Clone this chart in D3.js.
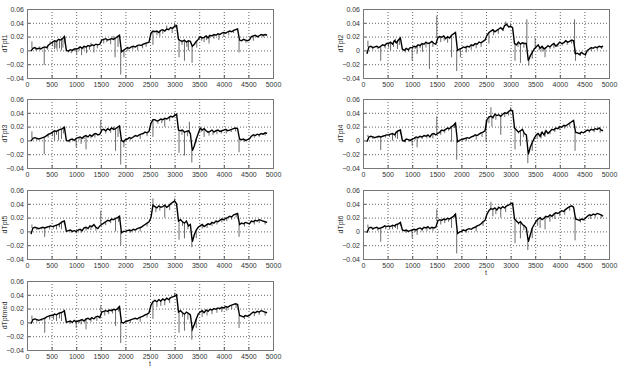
<!DOCTYPE html>
<html lang="en">
<head>
<meta charset="UTF-8">
<title>dTpt series</title>
<script src="https://d3js.org/d3.v7.min.js"></script>
<style>
  body { margin: 0; background: #fff; }
  svg text { font-family: "Liberation Sans", Arial, sans-serif; fill: #333; }
</style>
</head>
<body>
<div id="chart"></div>
<script>
// time grid of the sampled values (every 40 t from 80 to 4880)
const tStart = 80, tStep = 40, nPts = 121;
const tGrid = d3.range(nPts).map(i => tStart + i * tStep);

// values in units of 1e-3
const dTpt1 = [
  -1, 3, 4, 2, 3, 2, 4,   5, 4, 8, 10,   12, 14, 13, 16, 15, 17, 20,   0, -1, 1, 0, 2,
  2, 3, 5, 3, 6, 5, 7, 6, 8, 7, 9, 8, 9,   15, 16, 17, 15, 16, 17, 16, 18, 20, 22,   -2, 0,
  2, 4, 3, 5, 6, 5, 7, 8, 7, 9, 10, 11, 12,   25, 28,   27, 28, 26, 29, 30, 28, 31, 30, 33, 32, 35, 36,
  16, 14, 13, 15, 12, 14, 13, 6,   9, 13, 16,
  20, 18, 19, 21, 18, 22, 21, 23, 22, 24, 23, 25, 26, 25, 27, 28, 27, 29, 30, 31,
  15, 14, 16, 15, 14, 15,   20, 21, 22, 20, 21, 23, 22, 23, 22];
const dTpt2 = [
  -5, 5, 6, 4, 5, 6, 4,   6, 8, 7, 10,   10, 12, 9, 14, 11, 15, 18,   2, 0, 3, 1, 4,
  4, 6, 5, 8, 7, 10, 9, 12, 10, 11, 13, 10, 9,   18, 20, 19, 21, 17, 20, 18, 22, 24, 26,   0, 2,
  3, 5, 4, 6, 5, 8, 7, 10, 9, 12, 11, 13, 15,   22, 26,   28, 30, 27, 29, 31, 33, 30, 36, 38, 34, 35, 33,
  10, 8, 12, 9, 11, 10, 10, -15,   -8, -3, 2,
  5, 8, 3, 6, 2, 4, 7, 5, 8, 10, 6, 9, 12, 10, 11, 14, 12, 13, 15, 14,
  -5, -4, -6, -3, -5, -6,   0, 2, 4, 3, 5, 4, 6, 5, 6];
const dTpt3 = [
  -1, 3, 4, 3, 2, 3, 4,   5, 7, 9, 10,   12, 14, 13, 15, 16, 17, 19,   0, -1, 1, 2, 0,
  3, 4, 5, 3, 6, 7, 5, 8, 6, 9, 10, 8, 9,   15, 16, 14, 17, 15, 18, 16, 17, 19, 21,   0, -2,
  1, 2, 4, 3, 5, 7, 6, 8, 9, 10, 12, 11, 13,   25, 30,   30, 28, 29, 31, 30, 32, 31, 33, 35, 34, 36, 38,
  15, 14, 15, 12, 13, 14, 10, -15,   -8, 2, 10,
  18, 15, 17, 14, 12, 13, 15, 12, 14, 15, 13, 14, 15, 16, 14, 15, 16, 17, 18, 17,
  2, 1, 2, 0, 1, 2,   6, 8, 7, 9, 8, 10, 9, 11, 10];
const dTpt4 = [
  -2, 5, 6, 5, 4, 5, 6,   5, 6, 7, 8,   8, 9, 10, 8, 12, 14, 15,   0, -1, 2, 1, 0,
  2, 3, 5, 4, 6, 5, 7, 6, 8, 5, 9, 10, 8,   10, 12, 15, 14, 16, 18, 17, 20, 22, 25,   -2, 0,
  1, 2, 3, 4, 3, 5, 6, 8, 7, 9, 11, 12, 14,   30, 34,   35, 33, 38, 36, 37, 35, 38, 40, 39, 42, 44, 43,
  18, 15, 12, 14, 16, 10, 8, -20,   -10, -3, 3,
  8, 10, 6, 12, 8, 14, 10, 13, 16, 15, 18, 17, 20, 19, 22, 21, 23, 25, 27, 29,
  12, 11, 10, 12, 11, 13,   15, 14, 16, 15, 17, 16, 18, 15, 14];
const dTpt5 = [
  -4, 5, 6, 5, 4, 5, 6,   5, 6, 7, 8,   7, 8, 9, 10, 12, 14, 15,   0, 1, 2, 0, 1,
  0, 2, 3, 1, 5, 6, 4, 8, 7, 10, 6, 4, 8,   10, 12, 14, 16, 15, 18, 17, 19, 20, 22,   -2, 0,
  0, 1, 2, 1, 3, 2, 4, 5, 6, 8, 10, 12, 14,   20, 38,   36, 34, 37, 35, 36, 38, 35, 37, 40, 42, 44, 40,
  15, 17, 14, 12, 15, 8, 10, -15,   -5, 2, 6,
  8, 10, 7, 9, 11, 10, 13, 12, 15, 14, 16, 18, 17, 19, 20, 22, 21, 24, 25, 26,
  10, 12, 11, 13, 12, 11,   15, 14, 16, 15, 17, 16, 15, 14, 13];
const dTpt6 = [
  -2, 5, 6, 4, 5, 6, 4,   5, 6, 8, 7,   8, 7, 9, 8, 10, 11, 13,   2, 1, 2, 0, 1,
  2, 3, 2, 4, 5, 3, 6, 5, 7, 4, 6, 5, 6,   15, 17, 16, 18, 17, 19, 18, 20, 22, 25,   -3, -1,
  0, 2, 1, 3, 4, 3, 5, 6, 8, 9, 11, 14, 16,   25, 30,   33, 32, 34, 31, 35, 33, 36, 34, 37, 38, 40, 41,
  18, 15, 12, 14, 10, 8, 5, -15,   -5, 5, 10,
  15, 18, 20, 17, 19, 22, 21, 24, 22, 25, 27, 26, 28, 30, 29, 32, 34, 36, 37, 35,
  18, 17, 16, 18, 17, 19,   22, 24, 23, 25, 24, 26, 25, 24, 22];
const dTptmed = [
  -2, 4, 5, 4, 3, 4, 5,   6, 8, 9, 10,   10, 12, 11, 13, 14, 15, 17,   0, 1, 2, 0, 3,
  1, 2, 3, 4, 2, 5, 6, 4, 7, 5, 8, 9, 7,   15, 16, 17, 16, 18, 17, 19, 18, 20, 23,   0, -1,
  1, 2, 3, 4, 5, 6, 5, 7, 8, 9, 11, 12, 14,   25, 30,   32, 30, 33, 31, 34, 32, 35, 33, 36, 37, 38, 40,
  15, 17, 14, 12, 15, 13, 11, -10,   -3, 5, 12,
  15, 17, 14, 18, 16, 19, 18, 20, 19, 21, 20, 22, 21, 23, 22, 24, 25, 26, 27, 26,
  10, 9, 8, 10, 9, 10,   13, 15, 14, 16, 15, 17, 16, 15, 14];

// single-sample spikes and small excursions [t, value 1e-3]
const spikes1 = [[100,13],[180,0],[260,6],[350,-21],[420,1],[470,13],[520,6],[560,2],[590,4],[610,1],
  [660,3],[700,0],[730,4],[770,10],[840,-3],[900,-4],[960,-1],[1010,-6],[1060,0],[1110,-7],[1160,1],
  [1210,-4],[1270,1],[1300,11],[1360,-3],[1430,3],[1560,10],[1620,12],[1700,9],[1750,21],[1790,-10],
  [1850,5],[1905,-35],[1970,-10],[2050,-1],[2150,1],[2250,0],[2350,3],[2420,5],[2560,8],[2640,22],
  [2700,20],[2760,24],[2840,36],[2950,25],[3000,40],[3090,-10],[3150,8],[3200,-15],[3250,5],[3280,0],
  [3355,-18],[3450,4],[3550,14],[3600,12],[3650,15],[3700,10],[3800,17],[3900,15],[4000,20],[4100,22],
  [4200,25],[4310,-3],[4450,11],[4600,14],[4700,18],[4800,19]];
const spikes2 = [[100,14],[200,1],[300,2],[360,-15],[450,3],[520,4],[560,0],[620,5],[660,17],[700,2],
  [740,8],[860,-3],[930,-2],[1000,-15],[1060,2],[1100,-5],[1160,3],[1210,-2],[1280,4],[1350,-27],
  [1420,5],[1500,50],[1580,12],[1650,14],[1720,11],[1800,-10],[1905,-30],[1980,-10],[2100,-3],
  [2200,1],[2300,3],[2400,5],[2560,10],[2650,22],[2750,24],[2850,28],[2900,42],[3000,38],[3090,-15],
  [3150,5],[3200,-18],[3270,4],[3330,45],[3370,-22],[3440,-12],[3500,18],[3580,0],[3640,-2],
  [3700,-10],[3800,2],[3880,3],[3960,5],[4050,7],[4150,8],[4240,10],[4300,45],[4320,-15],[4420,-8],
  [4520,-9],[4640,-1],[4760,1],[4850,2]];
const spikes3 = [[100,13],[200,0],[350,-20],[430,4],[520,6],[560,0],[600,8],[640,0],[700,2],[740,10],
  [870,-3],[1000,-10],[1060,1],[1100,-5],[1160,2],[1200,-13],[1300,3],[1380,4],[1500,30],[1600,10],
  [1700,11],[1760,20],[1800,-15],[1850,5],[1905,-35],[1970,-10],[2100,0],[2300,2],[2440,6],[2560,5],
  [2660,24],[2740,25],[2800,20],[2900,28],[3000,40],[3090,-18],[3150,8],[3200,-22],[3260,6],[3300,27],
  [3350,-32],[3440,-3],[3540,12],[3600,5],[3700,7],[3780,8],[3860,9],[3950,10],[4050,10],[4150,12],
  [4240,13],[4310,-17],[4420,-2],[4620,4],[4720,5],[4840,7]];
const spikes4 = [[100,8],[200,2],[300,3],[360,-14],[460,4],[540,5],[600,0],[660,4],[700,2],[760,9],
  [860,-3],[950,-2],[1000,-8],[1060,1],[1100,-10],[1200,2],[1300,3],[1420,3],[1500,35],[1580,8],
  [1660,11],[1740,14],[1800,-2],[1860,18],[1905,-28],[2100,-1],[2300,1],[2420,5],[2500,-2],[2560,25],
  [2600,48],[2620,20],[2700,30],[2800,8],[2880,34],[2960,36],[3000,48],[3090,-13],[3160,10],[3200,-8],
  [3260,5],[3350,-33],[3440,-15],[3540,2],[3620,3],[3700,5],[3800,9],[3900,12],[4000,15],[4100,17],
  [4200,20],[4310,-15],[4420,8],[4600,11],[4700,12],[4820,11]];
const spikes5 = [[100,10],[200,2],[300,3],[360,-8],[460,3],[540,4],[600,3],[660,6],[700,3],[760,10],
  [900,-2],[1000,-3],[1100,-2],[1200,1],[1300,2],[1400,1],[1500,30],[1600,9],[1700,12],[1800,0],
  [1860,14],[1905,-20],[2100,-2],[2300,0],[2440,7],[2560,48],[2620,28],[2700,30],[2800,20],
  [2900,31],[3000,48],[3090,-12],[3160,8],[3200,-10],[3270,3],[3350,-23],[3440,-10],[3560,4],
  [3660,5],[3760,8],[3860,10],[3960,13],[4060,15],[4160,17],[4250,20],[4310,-8],[4420,7],[4620,10],
  [4720,12],[4840,10]];
const spikes6 = [[100,10],[200,2],[300,1],[360,-15],[460,3],[540,3],[600,3],[660,5],[700,3],[760,8],
  [880,-2],[1000,-10],[1060,-1],[1100,-5],[1200,0],[1300,1],[1420,1],[1500,32],[1580,10],[1660,12],
  [1740,14],[1800,5],[1860,20],[1905,-32],[2100,-2],[2300,0],[2440,8],[2600,43],[2640,22],[2700,25],
  [2800,20],[2900,28],[3000,43],[3090,-17],[3160,10],[3200,-10],[3270,2],[3350,-27],[3440,-10],
  [3550,8],[3600,5],[3700,3],[3800,14],[3900,18],[4000,22],[4100,24],[4200,30],[4310,-13],[4420,13],
  [4620,18],[4720,20],[4840,19]];
const spikesMed = [[100,10],[200,1],[300,2],[360,-15],[460,4],[540,4],[600,2],[660,6],[700,2],[760,10],
  [880,-2],[1000,-8],[1060,-1],[1100,-3],[1200,-10],[1300,1],[1420,2],[1500,25],[1580,10],[1660,12],
  [1740,13],[1800,-5],[1860,16],[1905,-30],[2100,-1],[2300,1],[2440,7],[2560,5],[2640,22],[2720,24],
  [2800,25],[2900,28],[3000,43],[3090,-15],[3160,8],[3200,-12],[3270,4],[3350,-25],[3440,-8],
  [3560,8],[3660,10],[3760,12],[3860,14],[3960,15],[4060,17],[4160,19],[4250,21],[4310,-8],[4420,5],
  [4620,9],[4720,11],[4840,10]];

const xTicks = d3.range(0, 5001, 500);
const yTicks = [-40, -20, 0, 20, 40, 60];

const panels = [
  { name: "dTpt1",   vals: dTpt1,   spikes: spikes1,   col: 0, row: 0 },
  { name: "dTpt3",   vals: dTpt3,   spikes: spikes3,   col: 0, row: 1 },
  { name: "dTpt5",   vals: dTpt5,   spikes: spikes5,   col: 0, row: 2 },
  { name: "dTptmed", vals: dTptmed, spikes: spikesMed, col: 0, row: 3, xlabel: true },
  { name: "dTpt2",   vals: dTpt2,   spikes: spikes2,   col: 1, row: 0 },
  { name: "dTpt4",   vals: dTpt4,   spikes: spikes4,   col: 1, row: 1 },
  { name: "dTpt6",   vals: dTpt6,   spikes: spikes6,   col: 1, row: 2, xlabel: true }
];

const W = 622, H = 372;
const colX = [27, 363], pw = 246, ph = 69;
const rowY = [9, 99, 190, 281];

const svg = d3.select("#chart").append("svg")
  .attr("width", W).attr("height", H);

const x = d3.scaleLinear().domain([0, 5000]).range([0, pw]);
const y = d3.scaleLinear().domain([-40, 60]).range([ph, 0]);

panels.forEach(p => {
  const g = svg.append("g")
    .attr("transform", `translate(${colX[p.col]},${rowY[p.row]})`);

  // dotted grid
  g.append("g").selectAll("line").data(xTicks.slice(1, -1)).enter().append("line")
    .attr("x1", d => x(d) + 0.5).attr("x2", d => x(d) + 0.5)
    .attr("y1", 0).attr("y2", ph)
    .attr("stroke", "#222").attr("stroke-width", 0.7).attr("stroke-dasharray", "1,2");
  g.append("g").selectAll("line").data(yTicks.slice(1, -1)).enter().append("line")
    .attr("y1", d => y(d) + 0.5).attr("y2", d => y(d) + 0.5)
    .attr("x1", 0).attr("x2", pw)
    .attr("stroke", "#222").attr("stroke-width", 0.7).attr("stroke-dasharray", "1,2");

  // spikes (drawn from the local value)
  const near = t => p.vals[Math.max(0, Math.min(nPts - 1, Math.round((t - tStart) / tStep)))];
  g.append("g").selectAll("line").data(p.spikes).enter().append("line")
    .attr("x1", d => x(d[0])).attr("x2", d => x(d[0]))
    .attr("y1", d => y(near(d[0]))).attr("y2", d => y(d[1]))
    .attr("stroke", "#444").attr("stroke-width", 0.8);

  // main trace
  const line = d3.line().x(d => x(d[0])).y(d => y(d[1]));
  g.append("path")
    .datum(tGrid.map((t, i) => [t, p.vals[i]]))
    .attr("d", line)
    .attr("fill", "none").attr("stroke", "#000").attr("stroke-width", 1.4)
    .attr("stroke-linejoin", "miter");

  // axes
  const ax = g.append("g").attr("transform", `translate(0,${ph})`)
    .call(d3.axisBottom(x).tickValues(xTicks).tickSize(-3).tickPadding(4).tickFormat(d3.format("d")));
  const ay = g.append("g")
    .call(d3.axisLeft(y).tickValues(yTicks).tickSize(-3).tickPadding(3)
      .tickFormat(d => d === 0 ? "0" : d3.format(".2f")(d / 1000)));
  [ax, ay].forEach(a => {
    a.select(".domain").remove();
    a.selectAll("line").attr("stroke", "#555");
    a.selectAll("text").style("font-size", "7px").attr("fill", "#333");
  });

  // frame
  g.append("rect").attr("x", 0.5).attr("y", 0.5).attr("width", pw).attr("height", ph)
    .attr("fill", "none").attr("stroke", "#777").attr("stroke-width", 1);

  // y label
  g.append("text")
    .attr("transform", `translate(-20,${ph / 2}) rotate(-90)`)
    .attr("text-anchor", "middle").style("font-size", "7px")
    .text(p.name);

  if (p.xlabel) {
    g.append("text")
      .attr("x", pw / 2).attr("y", ph + 16)
      .attr("text-anchor", "middle").style("font-size", "7px")
      .text("t");
  }
});
</script>
</body>
</html>
